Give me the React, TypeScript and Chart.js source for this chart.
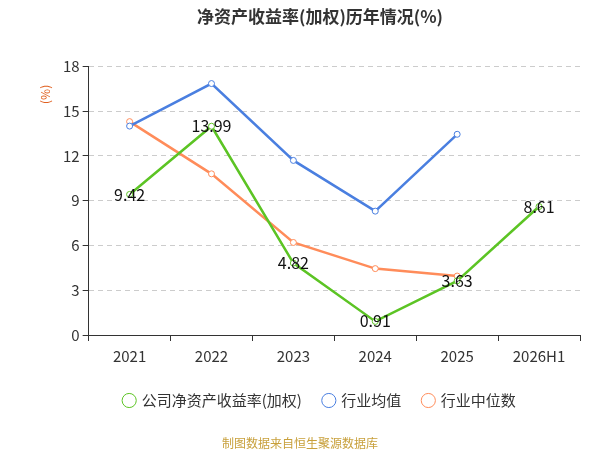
import React, { useEffect, useRef } from "react";
import { Chart, registerables } from "chart.js";
Chart.register(...registerables);

const categories = ["2021", "2022", "2023", "2024", "2025", "2026H1"];
const companyRoe = [9.42, 13.99, 4.82, 0.91, 3.63, 8.61];
const industryAvg = [14.0, 16.85, 11.7, 8.3, 13.45, null];
const industryMedian = [14.3, 10.8, 6.2, 4.45, 3.95, null];
const yTicks = [0, 3, 6, 9, 12, 15, 18];

const FONT = "'Noto Sans CJK SC', 'Noto Sans', sans-serif";

const extras = {
  id: "extras",
  afterDatasetsDraw(chart: any) {
    const ctx = chart.ctx;
    const meta = chart.getDatasetMeta(0);
    ctx.save();
    ctx.font = `16px ${FONT}`;
    ctx.fillStyle = "#111";
    ctx.textAlign = "center";
    ctx.textBaseline = "middle";
    meta.data.forEach((p: any, i: number) => {
      ctx.fillText(companyRoe[i].toFixed(2), p.x, p.y);
    });
    const area = chart.chartArea;
    ctx.fillStyle = "#e06020";
    ctx.font = `12px ${FONT}`;
    ctx.translate(45, area.top + 28);
    ctx.rotate(-Math.PI / 2);
    ctx.fillText("(%)", 0, 0);
    ctx.restore();
    ctx.save();
    ctx.font = `12px ${FONT}`;
    ctx.fillStyle = "#c8a03c";
    ctx.textAlign = "center";
    ctx.fillText("制图数据来自恒生聚源数据库", 300, 443);
    ctx.restore();
  },
};

export default function App() {
  const ref = useRef<HTMLCanvasElement>(null);
  useEffect(() => {
    const mk = (label: string, data: any[], color: string) => ({
      label,
      data,
      borderColor: color,
      backgroundColor: "#fff",
      pointBorderColor: color,
      pointBackgroundColor: "#fff",
      pointRadius: 3,
      pointBorderWidth: 1,
      borderWidth: 2.5,
      tension: 0,
    });
    const chart = new Chart(ref.current!, {
      type: "line",
      data: {
        labels: categories,
        datasets: [
          mk("公司净资产收益率(加权)", companyRoe, "#5cc424"),
          mk("行业均值", industryAvg, "#4a7fe0"),
          mk("行业中位数", industryMedian, "#ff8c5a"),
        ],
      },
      options: {
        animation: false,
        responsive: false,
        layout: { padding: { left: 60, right: 20, bottom: 32, top: 0 } },
        plugins: {
          title: {
            display: true,
            text: "净资产收益率(加权)历年情况(%)",
            font: { size: 17, weight: "bold", family: FONT },
            color: "#333",
            padding: { top: 6, bottom: 40 },
          },
          legend: {
            position: "bottom",
            labels: {
              usePointStyle: true,
              pointStyle: "circle",
              boxWidth: 10,
              boxHeight: 10,
              font: { size: 15, family: FONT },
              color: "#333",
              padding: 22,
            },
          },
          tooltip: { enabled: false },
        },
        scales: {
          x: {
            offset: true,
            grid: { display: true, drawOnChartArea: false, drawTicks: true, tickLength: 6, tickColor: "#333", offset: true },
            border: { color: "#333" },
            ticks: { font: { size: 15, family: FONT }, color: "#333", padding: 6 },
          },
          y: {
            min: 0,
            max: 18,
            afterBuildTicks: (s: any) => {
              s.ticks = yTicks.map((v) => ({ value: v }));
            },
            grid: { color: "#ccc", tickLength: 6, tickColor: "#333" },
            border: { dash: [5, 4], color: "#333" },
            ticks: { font: { size: 15, family: FONT }, color: "#333" },
          },
        },
      },
      plugins: [extras],
    } as any);
    return () => chart.destroy();
  }, []);
  return (
    <div style={{ position: "fixed", left: 0, top: 0, width: 600, height: 450, background: "#fff" }}>
      <canvas ref={ref} width={600} height={450} />
    </div>
  );
}
